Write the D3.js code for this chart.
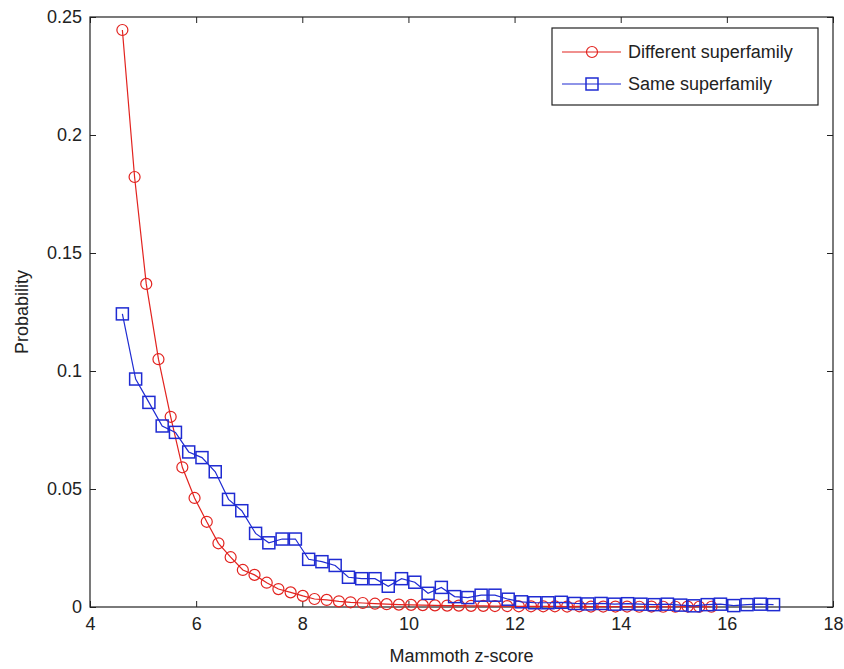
<!DOCTYPE html>
<html>
<head>
<meta charset="utf-8">
<script src="https://cdn.jsdelivr.net/npm/d3@7"></script>
<style>
    body { margin: 0; background: #fff; }
    svg text { font-family: "Liberation Sans", Arial, sans-serif; fill: #222; }
</style>
</head>
<body>
<svg id="chart"></svg>
<script>
// bin centres and probabilities
let diffX = [4.61, 4.84, 5.06, 5.29, 5.52, 5.74, 5.97, 6.20, 6.42, 6.65,
    6.88, 7.10, 7.33, 7.55, 7.78, 8.01, 8.23, 8.46, 8.69, 8.91,
    9.14, 9.37, 9.59, 9.82, 10.05, 10.27, 10.50, 10.73, 10.95, 11.18,
    11.41, 11.63, 11.86, 12.08, 12.31, 12.54, 12.76, 12.99, 13.22, 13.44,
    13.67, 13.90, 14.12, 14.35, 14.58, 14.80, 15.03, 15.26, 15.48, 15.71];
let diffY = [0.2445, 0.1822, 0.1369, 0.1050, 0.0806, 0.0592, 0.0462, 0.0361, 0.0270, 0.0211,
    0.0157, 0.0136, 0.0103, 0.0076, 0.0062, 0.0047, 0.0034, 0.0030, 0.0024, 0.0020,
    0.0017, 0.0014, 0.0012, 0.0010, 0.0009, 0.0008, 0.0007, 0.0006, 0.0006, 0.0005,
    0.0005, 0.0004, 0.0004, 0.0003, 0.0003, 0.0003, 0.0003, 0.0002, 0.0003, 0.0002,
    0.0002, 0.0002, 0.0002, 0.0001, 0.0002, 0.0001, 0.0001, 0.0002, 0.0001, 0.0001];
let sameX = [4.61, 4.86, 5.11, 5.36, 5.61, 5.86, 6.11, 6.36, 6.61, 6.86,
    7.12, 7.37, 7.62, 7.87, 8.12, 8.37, 8.62, 8.87, 9.12, 9.37,
    9.62, 9.87, 10.12, 10.37, 10.62, 10.87, 11.12, 11.37, 11.63, 11.88,
    12.13, 12.38, 12.63, 12.88, 13.13, 13.38, 13.63, 13.88, 14.13, 14.38,
    14.63, 14.88, 15.13, 15.38, 15.63, 15.88, 16.13, 16.38, 16.63, 16.88];
let sameY = [0.1242, 0.0966, 0.0867, 0.0767, 0.0740, 0.0657, 0.0633, 0.0573, 0.0456, 0.0408,
    0.0312, 0.0272, 0.0288, 0.0288, 0.0202, 0.0192, 0.0176, 0.0126, 0.0120, 0.0120,
    0.0088, 0.0120, 0.0105, 0.0058, 0.0083, 0.0044, 0.0040, 0.0050, 0.0050, 0.0033,
    0.0022, 0.0018, 0.0018, 0.0020, 0.0015, 0.0013, 0.0015, 0.0012, 0.0014, 0.0012,
    0.0010, 0.0012, 0.0008, 0.0005, 0.0010, 0.0012, 0.0006, 0.0010, 0.0012, 0.0010];
let seriesNames = ['Different superfamily', 'Same superfamily'];
let xTicks = [4, 6, 8, 10, 12, 14, 16, 18];
let yTicks = [0, 0.05, 0.1, 0.15, 0.2, 0.25];

let width = 844;
let height = 669;
let margin = {top: 17, right: 11, bot: 62, left: 90};
let config = {
    width: width - margin.left - margin.right,
    height: height - margin.top - margin.bot,
    margin: margin
};
let red = '#e2231f';
let blue = '#1f2bd2';

let svg = d3.select('#chart')
    .attr('width', width)
    .attr('height', height);
svg.append('rect').attr('width', width).attr('height', height).attr('fill', '#fff');

let xScale = d3.scaleLinear().domain([4, 18]).range([0, config.width]);
let yScale = d3.scaleLinear().domain([0, 0.25]).range([config.height, 0]);

let plot = svg.append('g')
    .attr('transform', `translate(${margin.left},${margin.top})`);

// axes with inward ticks on all four sides
let fmt = d => d === 0 ? '0' : String(d);
plot.append('g')
    .attr('transform', `translate(0,${config.height})`)
    .call(d3.axisBottom(xScale).tickValues(xTicks).tickSizeInner(-6).tickSizeOuter(0).tickPadding(10).tickFormat(d3.format('d')));
plot.append('g')
    .call(d3.axisTop(xScale).tickValues(xTicks).tickSizeInner(-6).tickSizeOuter(0).tickFormat(''));
plot.append('g')
    .call(d3.axisLeft(yScale).tickValues(yTicks).tickSizeInner(-6).tickSizeOuter(0).tickPadding(8).tickFormat(fmt));
plot.append('g')
    .attr('transform', `translate(${config.width},0)`)
    .call(d3.axisRight(yScale).tickValues(yTicks).tickSizeInner(-6).tickSizeOuter(0).tickFormat(''));
plot.selectAll('.domain').remove();
plot.selectAll('.tick line').attr('stroke', '#222');
plot.selectAll('.tick text').style('font-size', '18px').attr('fill', '#222');
plot.append('rect')
    .attr('width', config.width)
    .attr('height', config.height)
    .attr('fill', 'none')
    .attr('stroke', '#222')
    .attr('stroke-width', 1.2);

let line = d3.line()
    .x(d => xScale(d[0]))
    .y(d => yScale(d[1]));

function drawSeries(xs, ys, color, shape) {
    let pts = xs.map((x, i) => [x, ys[i]]);
    plot.append('path')
        .datum(pts)
        .attr('d', line)
        .attr('fill', 'none')
        .attr('stroke', color)
        .attr('stroke-width', 1.2);
    let g = plot.append('g');
    if (shape === 'circle') {
        g.selectAll('circle').data(pts).enter().append('circle')
            .attr('cx', d => xScale(d[0]))
            .attr('cy', d => yScale(d[1]))
            .attr('r', 5.5)
            .attr('fill', 'none')
            .attr('stroke', color)
            .attr('stroke-width', 1.2);
    } else {
        g.selectAll('rect').data(pts).enter().append('rect')
            .attr('x', d => xScale(d[0]) - 6)
            .attr('y', d => yScale(d[1]) - 6)
            .attr('width', 12)
            .attr('height', 12)
            .attr('fill', 'none')
            .attr('stroke', color)
            .attr('stroke-width', 1.5);
    }
}

drawSeries(diffX, diffY, red, 'circle');
drawSeries(sameX, sameY, blue, 'square');

// labels
svg.append('text')
    .attr('x', margin.left + config.width / 2)
    .attr('y', 662)
    .attr('text-anchor', 'middle')
    .style('font-size', '18px')
    .text('Mammoth z-score');
svg.append('text')
    .attr('transform', `translate(28,${margin.top + config.height / 2}) rotate(-90)`)
    .attr('text-anchor', 'middle')
    .style('font-size', '18px')
    .text('Probability');

// legend
let legend = svg.append('g').attr('transform', 'translate(552,28)');
legend.append('rect')
    .attr('width', 266)
    .attr('height', 77)
    .attr('fill', '#fff')
    .attr('stroke', '#222')
    .attr('stroke-width', 1.2);
let legendColors = [red, blue];
seriesNames.forEach((name, i) => {
    let yy = 24 + i * 32;
    legend.append('line')
        .attr('x1', 10).attr('x2', 69)
        .attr('y1', yy).attr('y2', yy)
        .attr('stroke', legendColors[i])
        .attr('stroke-width', 1.2);
    if (i === 0) {
        legend.append('circle')
            .attr('cx', 40).attr('cy', yy).attr('r', 5.5)
            .attr('fill', 'none').attr('stroke', red).attr('stroke-width', 1.2);
    } else {
        legend.append('rect')
            .attr('x', 34).attr('y', yy - 6).attr('width', 12).attr('height', 12)
            .attr('fill', 'none').attr('stroke', blue).attr('stroke-width', 1.5);
    }
    legend.append('text')
        .attr('x', 76)
        .attr('y', yy)
        .attr('dy', '0.35em')
        .style('font-size', '18px')
        .text(name);
});
</script>
</body>
</html>
